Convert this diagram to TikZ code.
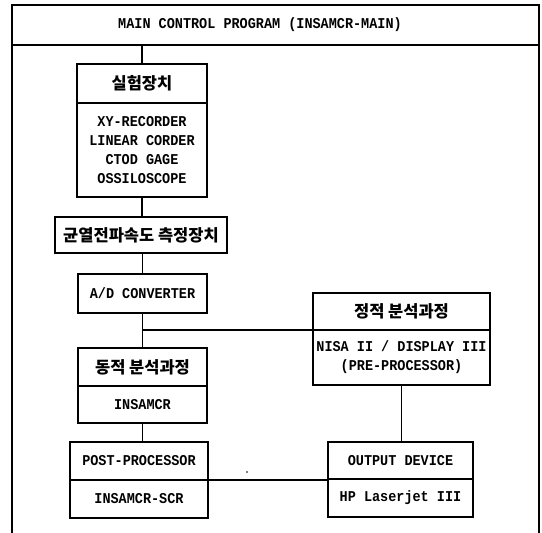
\documentclass[tikz,border=0pt]{standalone}
\usepackage{fontspec}
\newfontfamily\monof{Liberation Mono}[FakeStretch=0.9]
\newfontfamily\krf{Noto Sans CJK KR}
\begin{document}
\begin{tikzpicture}[x=1pt,y=-1pt,
  every node/.style={inner sep=0pt,outer sep=0pt},
  box/.style={draw,line width=1.2pt,align=center,font=\monof\bfseries\fontsize{15}{19}\selectfont},
  krbox/.style={box,font=\krf\bfseries\fontsize{16.5}{19}\selectfont},
  conn/.style={line width=1.2pt},
  frame/.style={line width=2.2pt}]
\useasboundingbox (0,0) rectangle (542,533);
% outer frame
\draw[frame] (12,533) -- (12,5) -- (539,5) -- (539,533);
\coordinate (tl) at (12,45);
\coordinate (tr) at (539,45);
\draw[line width=1.2pt] (tl) -- (tr);
\node[font=\monof\bfseries\fontsize{15}{16}\selectfont] (title) at (260,25) {MAIN CONTROL PROGRAM (INSAMCR-MAIN)};
\coordinate (tb) at (142,45);
% left column
\node[krbox,minimum width=130pt,minimum height=39pt] (b1a) at (142,83.5) {실험장치};
\node[box,minimum width=130pt,minimum height=94pt] (b1b) at (142,150) {XY-RECORDER\\LINEAR CORDER\\CTOD GAGE\\OSSILOSCOPE};
\node[krbox,minimum width=172pt,minimum height=36pt] (b2) at (141,235) {균열전파속도 측정장치};
\node[box,minimum width=129pt,minimum height=39pt] (b3) at (142.5,293.5) {A/D CONVERTER};
\node[krbox,minimum width=129pt,minimum height=38pt] (b4a) at (142.5,367) {동적 분석과정};
\node[box,minimum width=129pt,minimum height=37pt] (b4b) at (142.5,404.5) {INSAMCR};
\node[box,minimum width=138pt,minimum height=38pt] (b5a) at (139,461) {POST-PROCESSOR};
\node[box,minimum width=138pt,minimum height=38pt] (b5b) at (139,499) {INSAMCR-SCR};
% right column
\node[krbox,minimum width=177pt,minimum height=37pt] (r1a) at (401.5,311.5) {정적 분석과정};
\node[box,minimum width=177pt,minimum height=55pt] (r1b) at (401.5,357.5) {NISA II / DISPLAY III\\(PRE-PROCESSOR)};
\node[box,minimum width=145pt,minimum height=37pt] (r2a) at (400.5,460.5) {OUTPUT DEVICE};
\node[box,minimum width=145pt,minimum height=38pt] (r2b) at (400.5,498) {HP Laserjet III};
% connectors
\draw[conn] (tb) -- (b1a.north);
\draw[conn] (b1b.south) -- (b2.north -| b1b.south);
\draw[conn] (b2.south -| b3.north) -- (b3.north);
\draw[conn] (b3.south) -- (b4a.north);
\coordinate (j) at (b3.south |- r1a.south);
\draw[conn] (j) -- (r1a.south west);
\draw[conn] (r1b.south) -- (r1b.south |- r2a.north);
\draw[conn] (b4b.south) -- (b4b.south |- b5a.north);
\draw[conn] (b5a.south east) -- (b5a.south east -| r2a.west);
\fill (247,472) circle (0.9pt);
\end{tikzpicture}
\end{document}
